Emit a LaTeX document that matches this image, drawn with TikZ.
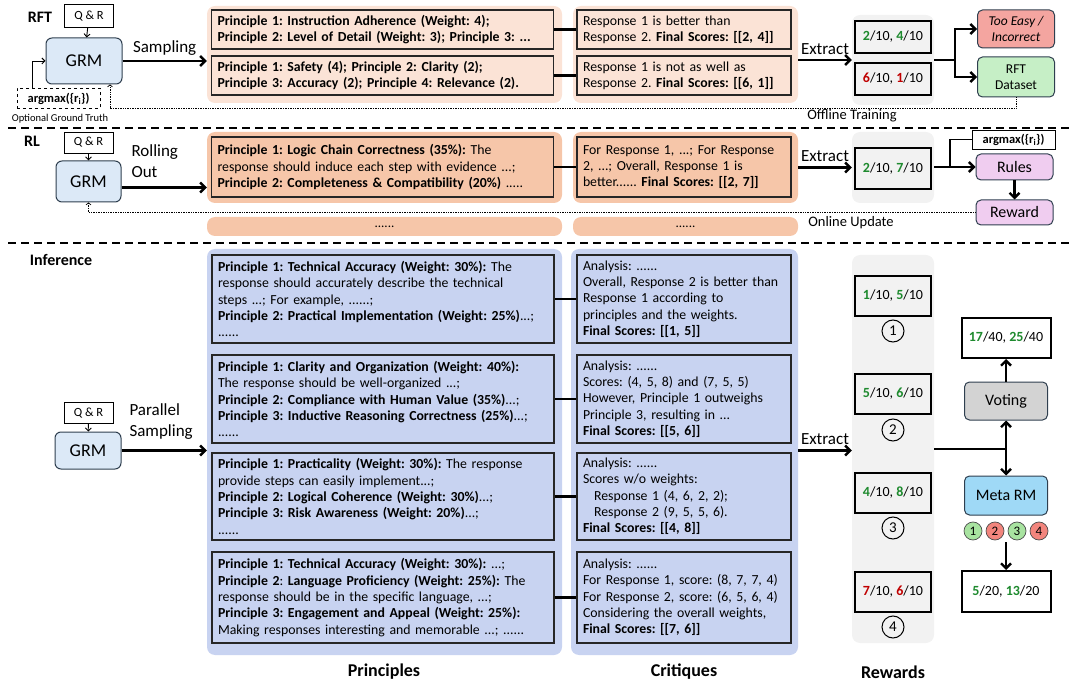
\documentclass[tikz,border=0pt]{standalone}
\usepackage{fontspec}
\setmainfont{Carlito}
\frenchspacing
\usetikzlibrary{arrows.meta,positioning}

\definecolor{rftfill}{HTML}{FBE3D6}
\definecolor{rlfill}{HTML}{F6C6A9}
\definecolor{inffill}{HTML}{C8D3F1}
\definecolor{rewfill}{HTML}{F2F2F2}
\definecolor{grmfill}{HTML}{DCE9F7}
\definecolor{grmline}{HTML}{2F3F4F}
\definecolor{easyfill}{HTML}{F4A5A0}
\definecolor{datafill}{HTML}{C6EFC6}
\definecolor{rulefill}{HTML}{F0CDF0}
\definecolor{votefill}{HTML}{D3D3D3}
\definecolor{metafill}{HTML}{9FD9F6}
\definecolor{scoregreen}{HTML}{1E8A2E}
\definecolor{scorered}{HTML}{C00000}
\definecolor{okfill}{HTML}{A8E3A0}
\definecolor{badfill}{HTML}{F2857D}

\def\gs#1{\textcolor{scoregreen}{\textbf{#1}}}
\def\rs#1{\textcolor{scorered}{\textbf{#1}}}

\tikzset{
  sect/.style={font=\fontsize{16}{16}\selectfont\bfseries},
  lbl/.style={font=\fontsize{17}{20}\selectfont},
  qr/.style={draw, line width=0.9pt, minimum width=49, minimum height=23, inner sep=0, font=\fontsize{12.5}{12.5}\selectfont},
  grm/.style={draw=grmline, fill=grmfill, line width=1pt, rounded corners=6pt, font=\fontsize{18}{18}\selectfont},
  amax/.style={draw, line width=0.9pt, fill=white, minimum width=83, minimum height=20, inner sep=0, font=\fontsize{12.5}{12.5}\selectfont\bfseries},
  small/.style={font=\fontsize{10.5}{10.5}\selectfont},
  bg/.style={rounded corners=8pt, inner sep=0},
  pbox/.style={draw=black!85, line width=1.3pt, align=left, inner xsep=6pt, inner ysep=2pt, text width=330, font=\fontsize{13.8}{16.3}\selectfont},
  cbox/.style={pbox, text width=202},
  rbox/.style={draw, line width=2.2pt, fill=rewfill, minimum width=76, minimum height=32, font=\fontsize{14}{14}\selectfont},
  flow/.style={line width=2.4pt, -{Straight Barb[length=5pt,width=10pt]}},
  tip/.style={line width=0.9pt, -{Straight Barb[length=3pt,width=6pt]}},
  link/.style={line width=2.2pt},
  dots/.style={densely dotted, line width=0.7pt},
  sep/.style={line width=2pt, dash pattern=on 8pt off 5pt},
  rbtn/.style={draw=grmline, line width=1pt, rounded corners=5pt, minimum width=77, font=\fontsize{16}{16}\selectfont},
  cnum/.style={circle, draw, line width=1pt, minimum size=22, inner sep=0, font=\fontsize{15}{15}\selectfont},
  mdot/.style={circle, draw=black!70, line width=0.7pt, minimum size=18, inner sep=0, font=\fontsize{13}{13}\selectfont},
  res/.style={draw, line width=2pt, fill=white, minimum width=89, minimum height=40, font=\fontsize{14}{14}\selectfont},
  head/.style={font=\fontsize{18}{18}\selectfont\bfseries}
}

\begin{document}
\begin{tikzpicture}[x=1pt,y=-1pt]
		%%%%% START %%%%%
		\useasboundingbox (0,0) rectangle (1080,695);
		
		% RFT
		\node[sect] (rft) at (40,17) {RFT};
		\node[qr] (qr1) at (89,16) {Q \& R};
		\node[grm, minimum width=76, minimum height=46] (grm1) at (84,61) {GRM};
		\node[amax, dashed] (am1) at (58.5,98.5) {argmax(\{r\textsubscript{i}\})};
		\node[small] (ogt) at (60,119) {Optional Ground Truth};
		\draw[tip] (qr1) -- (grm1);
		\draw[tip] ([xshift=16pt]am1.north west) |- (grm1.west);
		
		\node[bg, fill=rftfill, minimum width=355, minimum height=97] (rftp) at (384.5,54.5) {};
		\node[bg, fill=rftfill, minimum width=225, minimum height=97] (rftc) at (685.5,54.5) {};
		\draw[flow] (grm1.east) -- node[lbl, above=1pt] {Sampling} (grm1.east -| rftp.west);
		
		\node[pbox, fill=rftfill, minimum height=39] (p1) at (382.5,29.5)
			{\textbf{Principle 1: Instruction Adherence (Weight: 4);}\\\textbf{Principle 2: Level of Detail (Weight: 3); Principle 3: ...}};
		\node[pbox, fill=rftfill, minimum height=39] (p2) at (382.5,75.5)
			{\textbf{Principle 1: Safety (4); Principle 2: Clarity (2);}\\\textbf{Principle 3: Accuracy (2); Principle 4: Relevance (2).}};
		\node[cbox, fill=rftfill, minimum height=39] (c1) at (684,29.5)
			{Response 1 is better than\\Response 2. \textbf{Final Scores: [[2, 4]]}};
		\node[cbox, fill=rftfill, minimum height=39] (c2) at (684,75.5)
			{Response 1 is not as well as\\Response 2. \textbf{Final Scores: [[6, 1]]}};
		\draw[link] (p1) -- (c1);
		\draw[link] (p2) -- (c2);
		
		\node[bg, fill=rewfill, minimum width=82, minimum height=90] (rw1) at (893,60) {};
		\node[rbox] (r1) at (893,37) {\gs{2}/10, \gs{4}/10};
		\node[rbox] (r2) at (893,79) {\rs{6}/10, \rs{1}/10};
		\draw[flow] (rftc.east |- rw1.west) -- node[lbl, above=1pt] {Extract} (rw1.west);
		
		\node[rbtn, fill=easyfill, minimum height=38, align=center, font=\fontsize{13.5}{16}\selectfont\itshape] (easy) at (1016,29) {Too Easy /\\Incorrect};
		\node[rbtn, fill=datafill, minimum height=40, align=center, font=\fontsize{13.5}{16}\selectfont] (data) at (1016,77) {RFT\\Dataset};
		\coordinate (br1) at (955,60);
		\draw[link] (rw1.east) -- (br1);
		\draw[flow] (br1) |- (easy);
		\draw[flow] (br1) |- (data);
		
		\coordinate (off1) at (110,108);
		\draw[dots, -{Straight Barb[length=2pt,width=5pt]}] (data.south) |- (off1) -- (off1 |- grm1.south);
		\node[lbl, font=\fontsize{14.5}{14.5}\selectfont] (offl) at (852,116) {Offline Training};
		
		\draw[sep] (8,128) -- (1072,128);
		
		% RL
		\node[sect] (rl) at (32,141) {RL};
		\node[qr, minimum height=21] (qr2) at (88.5,142.5) {Q \& R};
		\node[grm, minimum width=65, minimum height=41] (grm2) at (88.5,181.5) {GRM};
		\draw[tip] (qr2) -- (grm2);
		
		\node[bg, fill=rlfill, minimum width=355, minimum height=71] (rlp) at (384.5,167.5) {};
		\node[bg, fill=rlfill, minimum width=225, minimum height=71] (rlc) at (685.5,167.5) {};
		\draw[flow] ([yshift=-6pt]grm2.east) -- ([yshift=-6pt]grm2.east -| rlp.west);
		\node[lbl, anchor=west, align=left, font=\fontsize{17}{21}\selectfont] (roll) at (128,161) {Rolling\\Out};
		
		\node[pbox, fill=rlfill, minimum height=60] (p3) at (382.5,167)
			{\textbf{Principle 1: Logic Chain Correctness (35\%):} The\\response should induce each step with evidence ...;\\\textbf{Principle 2: Completeness \& Compatibility (20\%)} .....};
		\node[cbox, fill=rlfill, minimum height=60] (c3) at (684,167)
			{For Response 1, ...; For Response\\2, ...; Overall, Response 1 is\\better...... \textbf{Final Scores: [[2, 7]]}};
		\draw[link] (p3) -- (c3);
		
		\node[bg, fill=rewfill, minimum width=82, minimum height=71] (rw2) at (893,167.5) {};
		\node[rbox, minimum height=41] (r3) at (893,168.5) {\gs{2}/10, \gs{7}/10};
		\draw[flow] (rlc.east) -- node[lbl, above=1pt] {Extract} (rw2.west);
		
		\node[amax, minimum height=19] (am2) at (1013.5,139.5) {argmax(\{r\textsubscript{i}\})};
		\node[rbtn, fill=rulefill, minimum height=26] (rules) at (1014.5,167) {Rules};
		\node[rbtn, fill=rulefill, minimum height=25] (rwd) at (1014.5,212.5) {Reward};
		\coordinate (br2) at (950,167);
		\draw[flow] (rw2.east |- rules) -- (rules);
		\draw[link, line width=1.6pt] (br2) |- (am2.west);
		\draw[flow] (rules) -- (rwd);
		\draw[dots, -{Straight Barb[length=2pt,width=5pt]}] (rwd.west) -| (grm2.south);
		
		\node[bg, fill=rlfill, minimum width=355, minimum height=19, font=\fontsize{13}{13}\selectfont] (rld1) at (384.5,226.5) {......};
		\node[bg, fill=rlfill, minimum width=225, minimum height=19, font=\fontsize{13}{13}\selectfont] (rld2) at (685.5,226.5) {......};
		\node[lbl, font=\fontsize{14.5}{14.5}\selectfont] (onl) at (851,223) {Online Update};
		
		\draw[sep] (8,243) -- (1072,243);
		
		% Inference
		\node[sect] (inf) at (61,260) {Inference};
		\node[qr, minimum height=21] (qr3) at (88.5,413) {Q \& R};
		\node[grm, minimum width=66, minimum height=37] (grm3) at (88,450.5) {GRM};
		\draw[tip] (qr3) -- (grm3);
		\node[lbl, anchor=west, align=left, font=\fontsize{17}{21}\selectfont] (par) at (126,422) {Parallel\\Sampling};
		
		\node[bg, fill=inffill, minimum width=355, minimum height=406] (infp) at (384.5,452) {};
		\node[bg, fill=inffill, minimum width=227, minimum height=406] (infc) at (684.5,452) {};
		\draw[flow] (grm3.east) -- (grm3.east -| infp.west);
		
		\node[pbox, fill=inffill, minimum height=88] (p4) at (383,299)
			{\textbf{Principle 1: Technical Accuracy (Weight: 30\%):} The\\response should accurately describe the technical\\steps ...; For example, ......;\\\textbf{Principle 2: Practical Implementation (Weight: 25\%)}...;\\......};
		\node[pbox, fill=inffill, minimum height=88] (p5) at (383,399)
			{\textbf{Principle 1: Clarity and Organization (Weight: 40\%):}\\The response should be well-organized ...;\\\textbf{Principle 2: Compliance with Human Value (35\%)}...;\\\textbf{Principle 3: Inductive Reasoning Correctness (25\%)}...;\\......};
		\node[pbox, fill=inffill, minimum height=87] (p6) at (383,496.5)
			{\textbf{Principle 1: Practicality (Weight: 30\%):} The response\\provide steps can easily implement...;\\\textbf{Principle 2: Logical Coherence (Weight: 30\%)}...;\\\textbf{Principle 3: Risk Awareness (Weight: 20\%)}...;\\......};
		\node[pbox, fill=inffill, minimum height=91] (p7) at (383,597.5)
			{\textbf{Principle 1: Technical Accuracy (Weight: 30\%):} ...;\\\textbf{Principle 2}: \textbf{Language Proficiency (Weight: 25\%):} The\\response should be in the specific language, ...;\\\textbf{Principle 3: Engagement and Appeal (Weight: 25\%):}\\Making responses interesting and memorable ...; ......};
		
		\node[cbox, fill=inffill, minimum height=88] (c4) at (684,299)
			{Analysis: ......\\Overall, Response 2 is better than\\Response 1 according to\\principles and the weights.\\\textbf{Final Scores: [[1, 5]]}};
		\node[cbox, fill=inffill, minimum height=88] (c5) at (684,399)
			{Analysis: ......\\Scores: (4, 5, 8) and (7, 5, 5)\\However, Principle 1 outweighs\\Principle 3, resulting in ...\\\textbf{Final Scores: [[5, 6]]}};
		\node[cbox, fill=inffill, minimum height=87] (c6) at (684,496.5)
			{Analysis: ......\\Scores w/o weights:\\\hspace*{11pt}Response 1 (4, 6, 2, 2);\\\hspace*{11pt}Response 2 (9, 5, 5, 6).\\\textbf{Final Scores: [[4, 8]]}};
		\node[cbox, fill=inffill, minimum height=91] (c7) at (684,597.5)
			{Analysis: ......\\For Response 1, score: (8, 7, 7, 4)\\For Response 2, score: (6, 5, 6, 4)\\Considering the overall weights,\\\textbf{Final Scores: [[7, 6]]}};
		\foreach \i/\j in {p4/c4,p5/c5,p6/c6,p7/c7}
			\draw[link] (\i) -- (\j);
		
		\node[bg, fill=rewfill, minimum width=82, minimum height=388] (rw3) at (893,449) {};
		\node[rbox, minimum height=40] (r4) at (893,296) {\gs{1}/10, \gs{5}/10};
		\node[rbox, minimum height=40] (r5) at (893,394) {\gs{5}/10, \gs{6}/10};
		\node[rbox, minimum height=40] (r6) at (893,493) {\gs{4}/10, \gs{8}/10};
		\node[rbox, minimum height=40] (r7) at (893,592) {\rs{7}/10, \rs{6}/10};
		\node[cnum] (n1) at (893,331) {1};
		\node[cnum] (n2) at (893,430) {2};
		\node[cnum] (n3) at (893,528) {3};
		\node[cnum] (n4) at (893,627) {4};
		\draw[flow] (infc.east |- grm3.east) -- node[lbl, above=1pt] {Extract} (rw3.west |- grm3.east);
		
		\node[rbtn, fill=votefill, minimum width=83, minimum height=38] (vote) at (1006,401) {Voting};
		\node[rbtn, fill=metafill, minimum width=83, minimum height=39] (meta) at (1006,495.5) {Meta RM};
		\node[res] (vres) at (1006,338) {\gs{17}/40, \gs{25}/40};
		\node[res, minimum height=41] (mres) at (1006,591.5) {\gs{5}/20, \gs{13}/20};
		\coordinate (br3) at (1006,449);
		\draw[link] (rw3.east |- br3) -- (br3);
		\draw[flow] (br3) -- (vote);
		\draw[flow] (br3) -- (meta);
		\draw[flow] (vote) -- (vres);
		
		\node[mdot, fill=okfill] (m1) at (973,531) {1};
		\node[mdot, fill=badfill] (m2) at (995,531) {2};
		\node[mdot, fill=okfill] (m3) at (1017,531) {3};
		\node[mdot, fill=badfill] (m4) at (1039,531) {4};
		\coordinate (mc) at (1006,542);
		\draw[flow] (mc) -- (mres);
		
		\node[head] (hp) at (384,672) {Principles};
		\node[head] (hc) at (684,672) {Critiques};
		\node[head] (hr) at (893,672) {Rewards};
		
		%%%%% END %%%%%
\end{tikzpicture}
\end{document}
